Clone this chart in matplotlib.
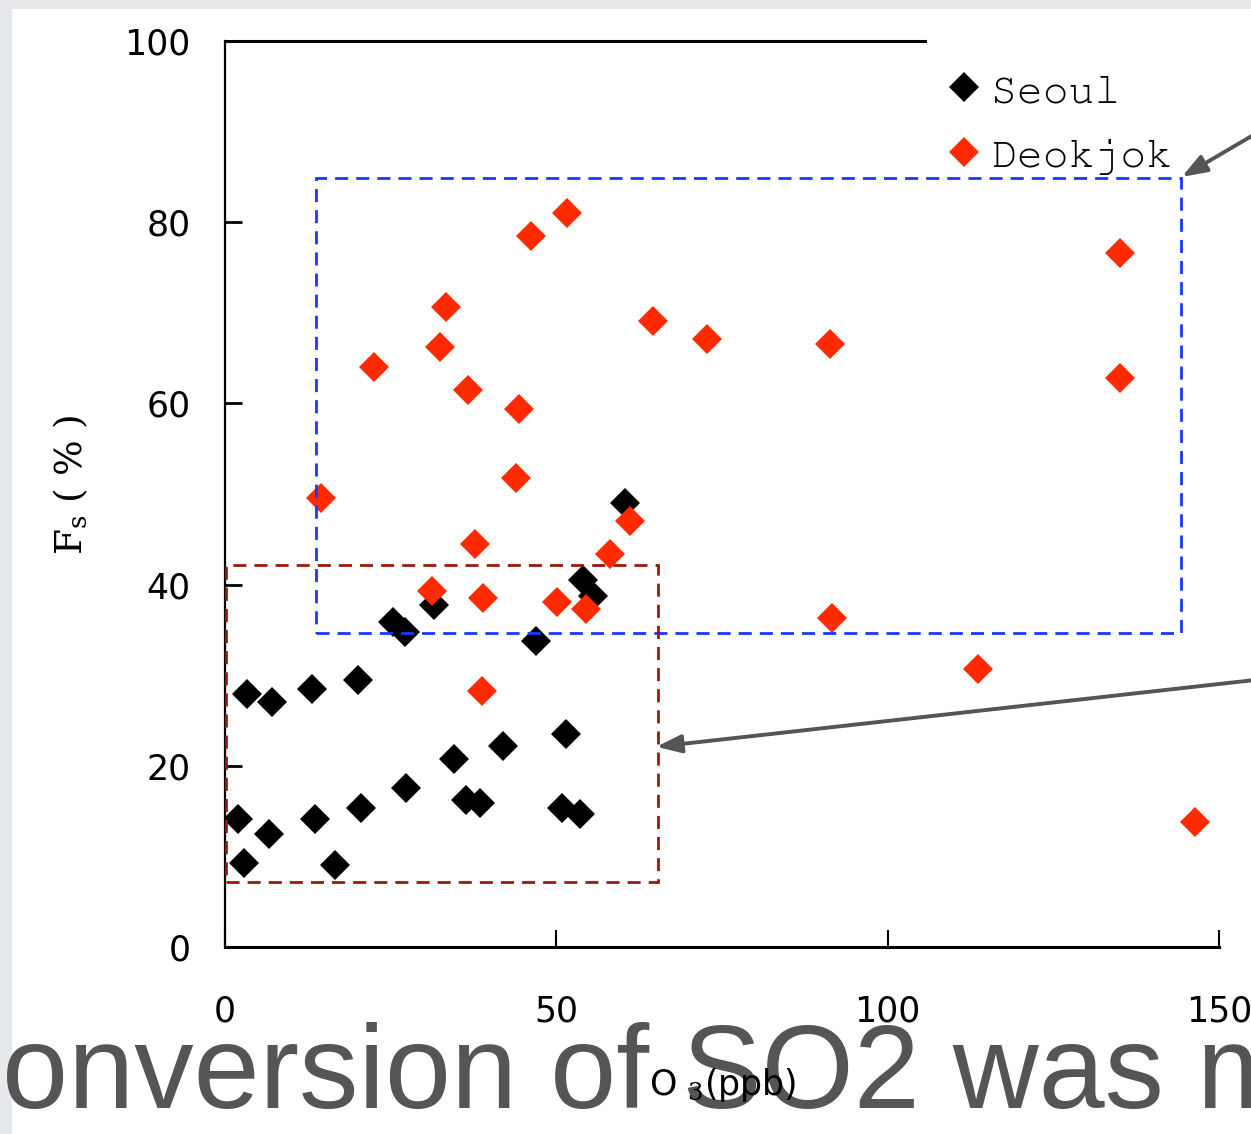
import matplotlib
matplotlib.use("Agg")
import matplotlib.pyplot as plt
from matplotlib.patches import Rectangle

# ---------------- data ----------------
seoul_x = [60.4, 25.4, 27.2, 31.6, 54.0, 55.6, 47.0, 3.3, 7.1, 13.1, 20.0, 2.0, 6.7,
           2.8, 13.6, 16.6, 20.5, 27.3, 34.6, 41.9, 51.4, 36.3, 38.5, 50.9, 53.6]
seoul_y = [49.0, 35.9, 34.8, 37.7, 40.5, 38.7, 33.8, 27.9, 27.0, 28.5, 29.5, 14.1, 12.5,
           9.3, 14.1, 9.0, 15.3, 17.5, 20.7, 22.2, 23.5, 16.2, 15.9, 15.3, 14.7]

deok_x = [14.5, 22.5, 32.4, 33.3, 36.7, 46.2, 51.6, 44.4, 43.9, 37.7, 31.2, 38.9, 38.8,
          50.1, 54.5, 58.1, 61.1, 64.6, 72.7, 91.3, 91.6, 113.6, 135.1, 135.1, 146.4]
deok_y = [49.6, 64.0, 66.2, 70.6, 61.5, 78.5, 81.0, 59.4, 51.8, 44.5, 39.3, 38.5, 28.3,
          38.1, 37.3, 43.4, 47.0, 69.1, 67.1, 66.6, 36.3, 30.7, 76.6, 62.8, 13.8]

series_labels = ["Seoul", "Deokjok"]
x_ticks = [0, 50, 100, 150]
y_ticks = [0, 20, 40, 60, 80, 100]

# highlight boxes (x0, x1, y0, y1) in data units
box_upper = (13.7, 144.3, 34.7, 84.9)
box_lower = (0.15, 65.3, 7.2, 42.2)

# arrows: (tip, tail) in data units
arrow_upper = ((144.4, 85.0), (157.0, 90.4))
arrow_lower = ((65.1, 22.1), (157.0, 29.6))

caption = "onversion of SO2 was m"

# ---------------- figure ----------------
W, H = 1251, 1134
fig = plt.figure(figsize=(W / 100, H / 100), dpi=100)
fig.patch.set_facecolor("#e7e8ec")
fig.patches.append(Rectangle((12 / W, 0), 1, (H - 9) / H, transform=fig.transFigure,
                             facecolor="white", edgecolor="none", zorder=-5))

plt.rcParams["mathtext.fontset"] = "dejavuserif"

ax = fig.add_axes([225 / W, 1 - 947 / H, (1219 - 225) / W, (947 - 41) / H])
ax.set_facecolor("none")
ax.set_xlim(0, 150)
ax.set_ylim(0, 100)

red = "#ff2a00"
ms = 15.5
ax.plot(seoul_x, seoul_y, linestyle="none", marker="D", ms=ms, color="black",
        markeredgewidth=0, label=series_labels[0], zorder=3)
ax.plot(deok_x, deok_y, linestyle="none", marker="D", ms=ms, color=red,
        markeredgewidth=0, label=series_labels[1], zorder=4)

x0, x1, y0, y1 = box_upper
ax.add_patch(Rectangle((x0, y0), x1 - x0, y1 - y0, fill=False, edgecolor="#1738ff",
                       lw=2.0, linestyle=(0, (4.7, 2.9)), zorder=5, clip_on=False))
x0, x1, y0, y1 = box_lower
ax.add_patch(Rectangle((x0, y0), x1 - x0, y1 - y0, fill=False, edgecolor="#9a1a0c",
                       lw=2.0, linestyle=(0, (4.7, 2.9)), zorder=5, clip_on=False))

for tip, tail in (arrow_upper, arrow_lower):
    ax.annotate("", xy=tip, xytext=tail, xycoords="data", textcoords="data",
                annotation_clip=False,
                arrowprops=dict(arrowstyle="-|>,head_length=1.5,head_width=0.55",
                                color="#555555", lw=2.8, shrinkA=0, shrinkB=0),
                zorder=6)

# spines
ax.spines["right"].set_visible(False)
ax.spines["left"].set_linewidth(1.6)
ax.spines["bottom"].set_linewidth(2.2)
ax.spines["top"].set_linewidth(2.2)
ax.spines["top"].set_bounds(0, 105.6)

ax.set_xticks(x_ticks)
ax.set_yticks(y_ticks)
ax.tick_params(axis="y", direction="in", length=12, width=2, labelsize=25, pad=25)
ax.tick_params(axis="x", direction="in", length=12, width=1.5, labelsize=25, pad=34)
ax.tick_params(top=False, right=False)

ax.set_xlabel(r"O $_{3}$(ppb)", fontsize=25, family="DejaVu Sans")
ax.xaxis.set_label_coords((723 - 225) / 994, -(1066 - 947) / 906)
ax.set_ylabel(r"F$_{\mathrm{s}}$ ( % )", fontsize=27, family="DejaVu Serif")
ax.yaxis.set_label_coords(-(225 - 90) / 994, (947 - 485) / 906)

leg = ax.legend(loc="upper left", bbox_to_anchor=(944 / W, 1 - 72 / H),
                bbox_transform=fig.transFigure, frameon=False, borderpad=0,
                borderaxespad=0, handlelength=0.95, handletextpad=0.15,
                labelspacing=0.62,
                prop=dict(family=["Courier New", "Nimbus Mono PS", "FreeMono",
                                  "Liberation Mono"], size=31))

fig.text(2 / W, (H - 1108) / H, caption, fontsize=85.5, color="#555555",
         family="Liberation Sans", ha="left", va="baseline", zorder=-1)

fig.savefig("out.png", dpi=100, facecolor=fig.get_facecolor())
